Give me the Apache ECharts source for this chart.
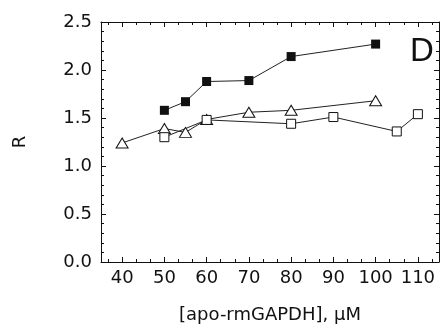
<!DOCTYPE html>
<html>
<head>
<meta charset="utf-8">
<script src="https://cdn.jsdelivr.net/npm/echarts@6/dist/echarts.min.js"></script>
<style>html,body{margin:0;padding:0;background:#fff}#c{width:444px;height:329px}</style>
</head>
<body>
<div id="c"></div>
<script>
// Data
var filledX = [50, 55, 60, 70, 80, 100];
var filledY = [1.58, 1.67, 1.88, 1.89, 2.14, 2.27];
var triX = [40, 50, 55, 60, 70, 80, 100];
var triY = [1.24, 1.39, 1.35, 1.485, 1.56, 1.58, 1.68];
var openX = [50, 60, 80, 90, 105, 110];
var openY = [1.30, 1.48, 1.44, 1.51, 1.36, 1.54];
var xTickLabels = [40, 50, 60, 70, 80, 90, 100, 110];
var xMinorTicks = [36.667, 43.333, 46.667, 53.333, 56.667, 63.333, 66.667, 73.333, 76.667, 83.333, 86.667, 93.333, 96.667, 103.333, 106.667, 113.333];
var yTickLabels = [0.0, 0.5, 1.0, 1.5, 2.0, 2.5];

function pairs(xs, ys) { return xs.map(function (x, i) { return [x, ys[i]]; }); }

var FONT = 'DejaVu Sans';
var black = '#111';
var lineStyle = { color: black, width: 1 };

function xAxisDef(pos, ticks, len, showLabel, showLine) {
  return {
    type: 'value', position: pos, min: 35, max: 115,
    axisLine: { show: showLine, onZero: false, lineStyle: lineStyle },
    axisTick: { show: true, inside: true, length: len, customValues: ticks, lineStyle: lineStyle },
    axisLabel: showLabel ? { show: true, customValues: xTickLabels, color: black, fontFamily: FONT, fontSize: 18, margin: 7 } : { show: false },
    splitLine: { show: false },
    name: showLabel ? '[apo-rmGAPDH], \u03bcM' : '',
    nameLocation: 'middle', nameGap: 44,
    nameTextStyle: { color: black, fontFamily: FONT, fontSize: 18 }
  };
}
function yAxisDef(pos, showLabel) {
  return {
    type: 'value', position: pos, min: 0, max: 2.5, interval: 0.5,
    axisLine: { show: true, onZero: false, lineStyle: lineStyle },
    axisTick: { show: true, inside: true, length: 5, lineStyle: lineStyle },
    minorTick: { show: true, splitNumber: 5, length: 3, lineStyle: lineStyle },
    axisLabel: showLabel ? { show: true, color: black, fontFamily: FONT, fontSize: 18, margin: 9, formatter: function (v) { return v.toFixed(1); } } : { show: false },
    splitLine: { show: false },
    name: showLabel ? 'R' : '',
    nameLocation: 'middle', nameGap: 72, nameRotate: 90,
    nameTextStyle: { color: black, fontFamily: FONT, fontSize: 18 }
  };
}

var chart = echarts.init(document.getElementById('c'), null, { renderer: 'canvas' });
chart.setOption({
  animation: false,
  backgroundColor: '#fff',
  grid: { left: 101, top: 22, right: 5, bottom: 67, containLabel: false },
  xAxis: [
    xAxisDef('bottom', xTickLabels, 5, true, true),
    xAxisDef('bottom', xMinorTicks, 3, false, false),
    xAxisDef('top', xTickLabels, 5, false, true),
    xAxisDef('top', xMinorTicks, 3, false, false)
  ],
  yAxis: [
    yAxisDef('left', true),
    yAxisDef('right', false)
  ],
  graphic: [{
    type: 'text', left: 410, top: 35,
    style: { text: 'D', font: '33px "Liberation Sans"', fill: black }
  }],
  series: [
    {
      type: 'line', data: pairs(filledX, filledY), xAxisIndex: 0, yAxisIndex: 0,
      symbol: 'rect', symbolSize: 9,
      lineStyle: { color: '#222', width: 1 },
      itemStyle: { color: black, borderColor: black, borderWidth: 0 }
    },
    {
      type: 'line', data: pairs(triX, triY), xAxisIndex: 0, yAxisIndex: 0,
      symbol: 'triangle', symbolSize: [12, 10],
      lineStyle: { color: '#222', width: 1 },
      itemStyle: { color: '#fff', borderColor: black, borderWidth: 1 }
    },
    {
      type: 'line', data: pairs(openX, openY), xAxisIndex: 0, yAxisIndex: 0,
      symbol: 'rect', symbolSize: 9,
      lineStyle: { color: '#222', width: 1 },
      itemStyle: { color: '#fff', borderColor: black, borderWidth: 1 }
    }
  ]
});
</script>
</body>
</html>
